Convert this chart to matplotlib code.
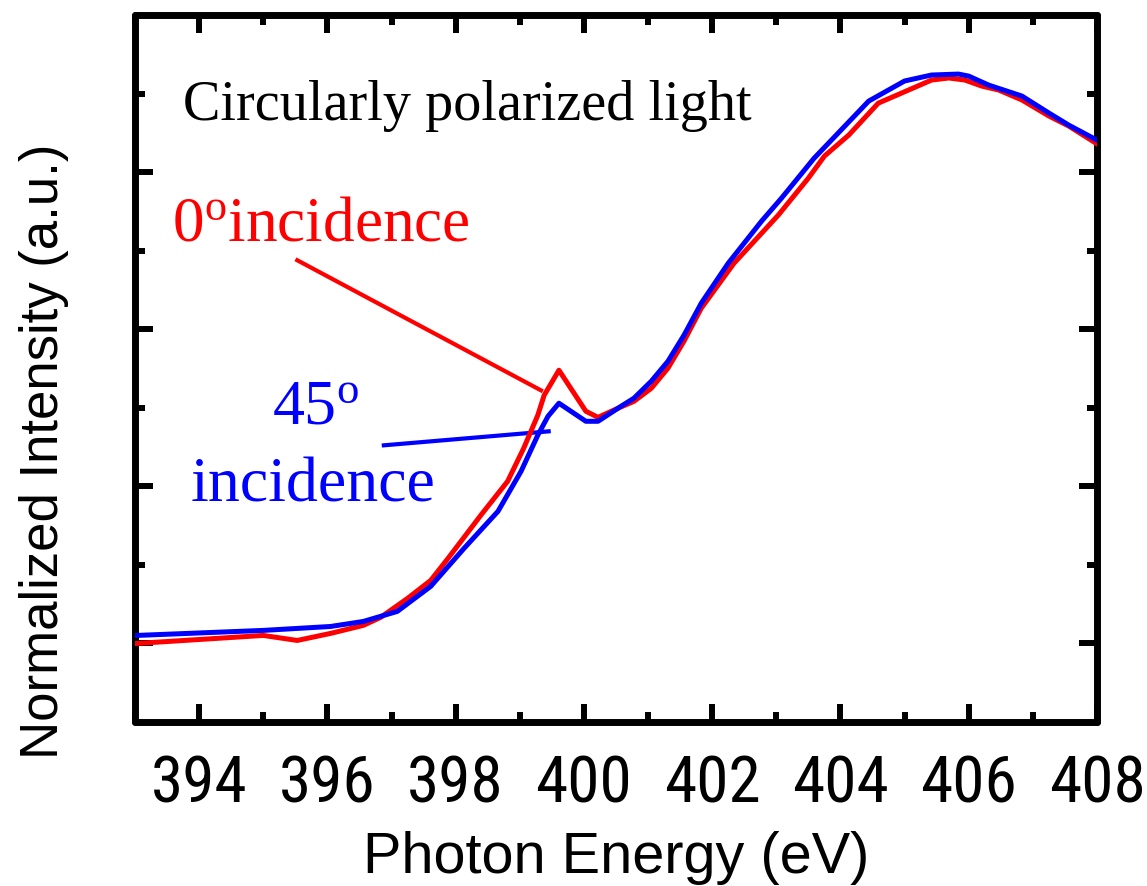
import matplotlib
matplotlib.use('Agg')
import matplotlib.pyplot as plt
from matplotlib import font_manager as fm

# ---- data ----
energy_0 = [393.03, 395.00, 395.53, 396.05, 396.56, 396.83, 397.25, 397.61, 397.88,
            398.39, 398.81, 399.06, 399.28, 399.38, 399.61, 400.03, 400.22, 400.53,
            400.78, 401.05, 401.31, 401.56, 401.83, 402.34, 403.03, 403.50, 403.75,
            404.13, 404.59, 405.06, 405.42, 405.69, 405.94, 406.20, 406.47, 406.83,
            407.25, 407.56, 408.03]
intensity_0 = [0.000, 0.051, 0.019, 0.064, 0.115, 0.166, 0.287, 0.401, 0.541,
               0.815, 1.032, 1.242, 1.452, 1.580, 1.739, 1.478, 1.439, 1.497,
               1.541, 1.624, 1.752, 1.924, 2.134, 2.420, 2.726, 2.962, 3.102,
               3.236, 3.439, 3.522, 3.586, 3.599, 3.586, 3.548, 3.522, 3.459,
               3.357, 3.293, 3.172]

energy_45 = [393.03, 395.00, 396.05, 396.56, 397.09, 397.61, 398.13, 398.66, 399.02,
             399.28, 399.44, 399.61, 400.03, 400.22, 400.58, 400.78, 401.05, 401.31,
             401.56, 401.83, 402.25, 402.77, 403.08, 403.59, 403.86, 404.44, 405.00,
             405.42, 405.84, 406.00, 406.31, 406.83, 407.25, 407.56, 408.03]
intensity_45 = [0.051, 0.083, 0.108, 0.140, 0.204, 0.363, 0.605, 0.841, 1.096,
                1.325, 1.446, 1.529, 1.414, 1.414, 1.510, 1.561, 1.669, 1.796,
                1.962, 2.166, 2.420, 2.688, 2.834, 3.089, 3.204, 3.452, 3.580,
                3.618, 3.624, 3.611, 3.554, 3.484, 3.376, 3.299, 3.197]

x_ticks = [394, 396, 398, 400, 402, 404, 406, 408]
x_minor = [393, 395, 397, 399, 401, 403, 405, 407]
y_major = [0, 1, 2, 3]
y_minor = [0.5, 1.5, 2.5, 3.5]

label_0 = r"0$^{\mathrm{o}}$incidence"
label_45a = r"45$^{\mathrm{o}}$"
label_45b = "incidence"
title_text = "Circularly polarized light"
xlabel = "Photon Energy (eV)"
ylabel = "Normalized Intensity (a.u.)"

names = {f.name for f in fm.fontManager.ttflist}
narrow = None
for cand in ['Liberation Sans Narrow', 'Arial Narrow', 'Roboto Condensed',
             'Open Sans Condensed', 'Noto Sans Condensed']:
    if cand in names:
        narrow = cand
        break
if narrow is None:
    tick_font, tick_size = 'Liberation Sans', 41
else:
    tick_font, tick_size = narrow, 47

plt.rcParams['mathtext.fontset'] = 'custom'
plt.rcParams['mathtext.rm'] = 'Liberation Serif'
plt.rcParams['mathtext.it'] = 'Liberation Serif:italic'

W, H = 1147, 886
fig = plt.figure(figsize=(W / 100, H / 100), dpi=100)
ax = fig.add_axes([135 / W, 1 - 722 / H, (1097 - 135) / W, (722 - 15) / H])

ax.plot(energy_0, intensity_0, color='#ff0000', lw=3.6, solid_joinstyle='round', zorder=3)
ax.plot(energy_45, intensity_45, color='#0000ff', lw=3.6, solid_joinstyle='round', zorder=4)

ax.set_xlim(393, 408)
ax.set_ylim(-0.5, 4.0)

ax.set_xticks(x_ticks)
ax.set_xticks(x_minor, minor=True)
ax.set_yticks(y_major)
ax.set_yticks(y_minor, minor=True)
ax.set_yticklabels([])
ax.set_xticklabels([str(t) for t in x_ticks], fontfamily=tick_font,
                   fontsize=tick_size, fontweight='normal')

ax.tick_params(which='major', direction='in', length=13, width=4.3,
               top=True, right=True, pad=23)
ax.tick_params(which='minor', direction='in', length=7, width=4.3,
               top=True, right=True)
for s in ax.spines.values():
    s.set_linewidth(5)
    s.set_capstyle('round')

# annotations
ax.text(393.75, 3.331, title_text, fontfamily='Liberation Serif', fontsize=40.5,
        color='black', va='baseline', ha='left')
ax.text(393.58, 2.567, label_0, fontfamily='Liberation Serif', fontsize=45.5,
        color='#ff0000', va='baseline', ha='left')
ax.text(395.14, 1.401, label_45a, fontfamily='Liberation Serif', fontsize=46,
        color='#0000ff', va='baseline', ha='left')
ax.text(393.86, 0.904, label_45b, fontfamily='Liberation Serif', fontsize=46,
        color='#0000ff', va='baseline', ha='left')
ax.plot([395.53, 399.33], [2.439, 1.611], color='#ff0000', lw=3, zorder=2)
ax.plot([396.88, 399.45], [1.261, 1.350], color='#0000ff', lw=3, zorder=2)

fig.text(616 / W, 1 - 873 / H, xlabel, fontfamily='Liberation Sans', fontsize=41.5,
         ha='center', va='baseline')
fig.text(44 / W, 1 - 451 / H, ylabel, fontfamily='Liberation Sans', fontsize=38,
         ha='center', va='center', rotation=90)

fig.savefig('out.png', dpi=100)
